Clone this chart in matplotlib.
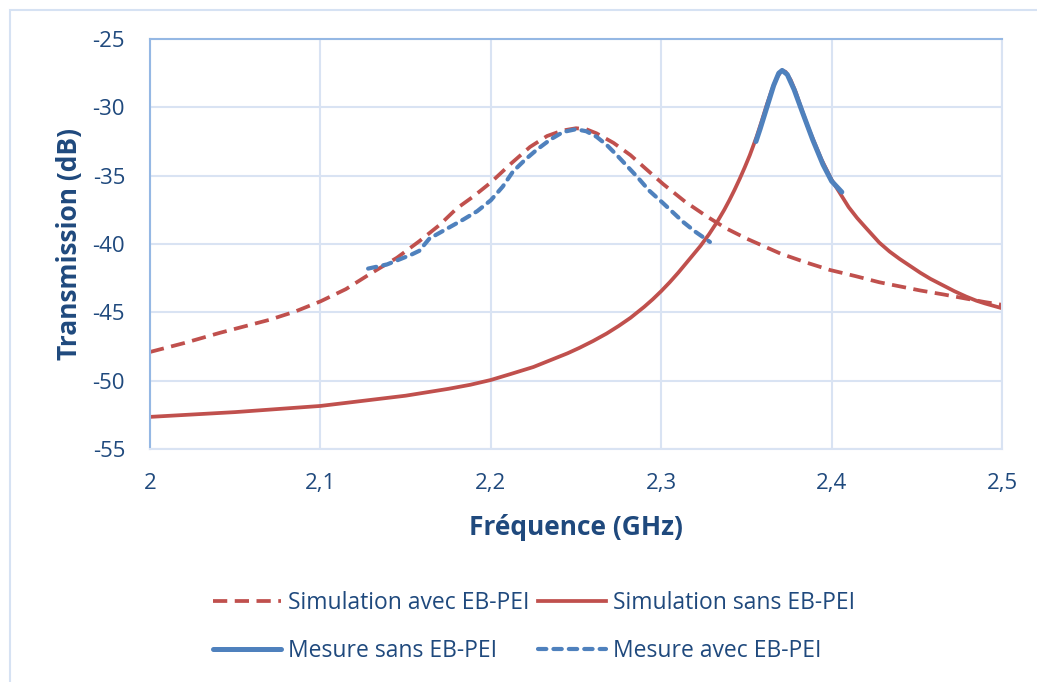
import matplotlib.pyplot as plt
from matplotlib.patches import Rectangle

plt.rcParams['font.family'] = ['Open Sans', 'DejaVu Sans']
plt.rcParams['axes.unicode_minus'] = False

# Simulation sans EB-PEI (solid red)
f_sim_sans = [2.000, 2.050, 2.100, 2.150, 2.175, 2.188, 2.200, 2.212, 2.225, 2.235,
              2.245, 2.252, 2.260, 2.268, 2.275, 2.282, 2.290, 2.295, 2.300, 2.305,
              2.310, 2.316, 2.323, 2.328, 2.333, 2.337, 2.340, 2.343, 2.346, 2.349,
              2.352, 2.356, 2.359, 2.362, 2.365, 2.368, 2.3707, 2.373, 2.376, 2.379,
              2.382, 2.386, 2.389, 2.394, 2.400, 2.406, 2.410, 2.415, 2.420, 2.428,
              2.434, 2.440, 2.446, 2.452, 2.458, 2.465, 2.472, 2.479, 2.485, 2.490,
              2.500]
t_sim_sans = [-52.65, -52.3, -51.85, -51.1, -50.6, -50.3, -49.95, -49.5, -49.0, -48.5,
              -48.0, -47.6, -47.1, -46.55, -46.0, -45.4, -44.6, -44.05, -43.45, -42.8,
              -42.1, -41.2, -40.15, -39.3, -38.35, -37.5, -36.8, -36.05, -35.25, -34.4,
              -33.5, -32.15, -31.0, -29.8, -28.7, -27.8, -27.3, -27.4, -28.0, -28.9,
              -30.0, -31.4, -32.3, -33.8, -35.3, -36.5, -37.3, -38.1, -38.8, -39.9,
              -40.55, -41.1, -41.6, -42.1, -42.55, -43.0, -43.45, -43.85, -44.15, -44.35,
              -44.7]

# Simulation avec EB-PEI (dashed red)
f_sim_avec = [2.000, 2.020, 2.041, 2.070, 2.085, 2.100, 2.115, 2.129, 2.145, 2.158,
              2.170, 2.180, 2.190, 2.200, 2.212, 2.223, 2.233, 2.242, 2.250, 2.256,
              2.262, 2.272, 2.282, 2.291, 2.301, 2.314, 2.327, 2.338, 2.350, 2.360,
              2.370, 2.385, 2.399, 2.414, 2.428, 2.440, 2.452, 2.466, 2.479, 2.490,
              2.500]
t_sim_avec = [-47.9, -47.25, -46.5, -45.55, -44.95, -44.2, -43.3, -42.2, -41.0, -39.8,
              -38.6, -37.4, -36.5, -35.5, -34.1, -32.9, -32.1, -31.7, -31.53, -31.6,
              -31.9, -32.6, -33.5, -34.5, -35.6, -36.9, -38.0, -38.85, -39.6, -40.15,
              -40.7, -41.35, -41.9, -42.35, -42.8, -43.1, -43.4, -43.7, -44.0, -44.25,
              -44.45]

# Mesure sans EB-PEI (solid blue)
f_mes_sans = [2.3556, 2.358, 2.362, 2.366, 2.369, 2.371, 2.374, 2.378, 2.383, 2.389,
              2.395, 2.400, 2.406]
t_mes_sans = [-32.5, -31.6, -30.0, -28.4, -27.5, -27.3, -27.6, -28.7, -30.4, -32.4,
              -34.2, -35.4, -36.2]

# Mesure avec EB-PEI (dashed blue)
f_mes_avec = [2.128, 2.139, 2.147, 2.153, 2.158, 2.164, 2.174, 2.184, 2.192, 2.200,
              2.207, 2.213, 2.220, 2.227, 2.235, 2.2425, 2.250, 2.256, 2.262, 2.268,
              2.274, 2.280, 2.286, 2.293, 2.301, 2.307, 2.313, 2.320, 2.3286]
t_mes_avec = [-41.8, -41.5, -41.1, -40.8, -40.5, -39.6, -38.9, -38.2, -37.6, -36.8,
              -35.8, -34.7, -33.85, -33.1, -32.35, -31.8, -31.6, -31.75, -32.15, -32.75,
              -33.5, -34.3, -35.1, -36.1, -37.0, -37.7, -38.4, -39.1, -39.85]

red = '#C0504D'
blue = '#4F81BD'
txt = '#1F497D'
grid = '#D9E3F3'

fig = plt.figure(figsize=(10.37, 6.82), dpi=100)
fig.patches.append(Rectangle((10 / 1037, -0.1), 1.2, 1.1 - 10 / 682,
                             transform=fig.transFigure, fill=False,
                             edgecolor='#D6E2F3', linewidth=1.5))
ax = fig.add_axes([150 / 1037, 1 - 449 / 682, 852 / 1037, 410 / 682])

l1, = ax.plot(f_sim_avec, t_sim_avec, color=red, lw=2.7, dashes=(3.8, 2.0),
              label='Simulation avec EB-PEI')
l2, = ax.plot(f_sim_sans, t_sim_sans, color=red, lw=2.7,
              label='Simulation sans EB-PEI')
l4, = ax.plot(f_mes_avec, t_mes_avec, color=blue, lw=3.0, dashes=(2.0, 1.7),
              dash_capstyle='round', label='Mesure avec EB-PEI')
l3, = ax.plot(f_mes_sans, t_mes_sans, color=blue, lw=3.6, solid_capstyle='round',
              label='Mesure sans EB-PEI')

ax.set_xlim(2, 2.5)
ax.set_ylim(-55, -25)
ax.set_xticks([2, 2.1, 2.2, 2.3, 2.4, 2.5])
ax.set_xticklabels(['2', '2,1', '2,2', '2,3', '2,4', '2,5'])
ax.set_yticks(range(-55, -24, 5))
ax.grid(True, color=grid, lw=1.5)
ax.set_axisbelow(True)
ax.tick_params(length=0, labelsize=16, labelcolor=txt)
ax.tick_params(axis='x', pad=17)
ax.tick_params(axis='y', pad=18)
for s in ['right', 'bottom']:
    ax.spines[s].set_color(grid)
    ax.spines[s].set_linewidth(1.5)
for s in ['left', 'top']:
    ax.spines[s].set_color('#95B8E4')
    ax.spines[s].set_linewidth(1.5)

ax.set_xlabel('Fréquence (GHz)', fontsize=19, fontweight='bold', color=txt, labelpad=15)
ax.set_ylabel('Transmission (dB)', fontsize=19, fontweight='bold', color=txt, labelpad=7)

fig.legend([l1, l3, l2, l4],
           ['Simulation avec EB-PEI', 'Mesure sans EB-PEI',
            'Simulation sans EB-PEI', 'Mesure avec EB-PEI'],
           ncol=2, loc='center', bbox_to_anchor=(534 / 1037, 1 - 627 / 682),
           frameon=False, fontsize=16.5, labelcolor=txt, handlelength=3.0,
           handletextpad=0.3, columnspacing=0.35, labelspacing=1.05)

fig.savefig('out.png', dpi=100)
